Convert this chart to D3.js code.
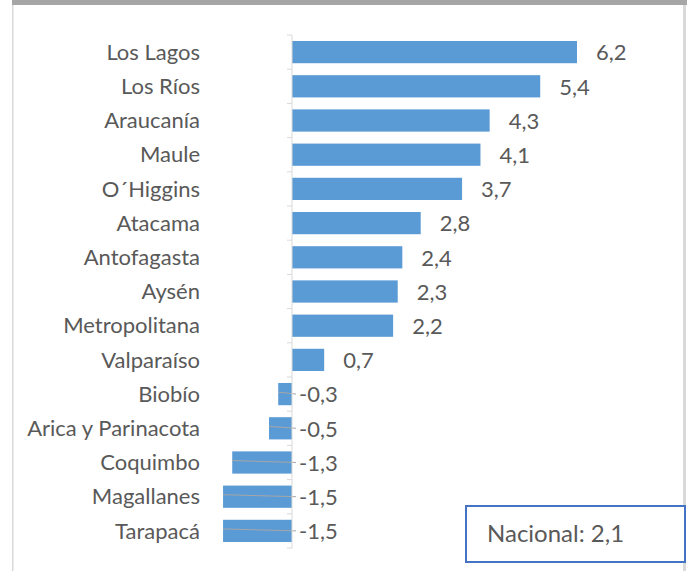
<!DOCTYPE html>
<html>
<head>
<meta charset="utf-8">
<script src="https://cdn.jsdelivr.net/npm/d3@7"></script>
<style>
  body { margin: 0; background: #fff; }
  text { font-family: Lato, "Open Sans", sans-serif; fill: #595959; }
</style>
</head>
<body>
<div id="chart"></div>
<script>
var regions = ["Los Lagos", "Los Ríos", "Araucanía", "Maule", "O´Higgins", "Atacama", "Antofagasta", "Aysén", "Metropolitana", "Valparaíso", "Biobío", "Arica y Parinacota", "Coquimbo", "Magallanes", "Tarapacá"];
var values = [6.2, 5.4, 4.3, 4.1, 3.7, 2.8, 2.4, 2.3, 2.2, 0.7, -0.3, -0.5, -1.3, -1.5, -1.5];
var nacional = 2.1;

var W = 687, H = 571;

var rows = regions.map(function(r, i) { return {region: r, value: values[i]}; });

var svg = d3.select("#chart")
  .append("svg")
  .attr("width", W)
  .attr("height", H);

// frame
svg.append("rect").attr("x", 12).attr("y", 0).attr("width", W - 12).attr("height", 5).attr("fill", "#a6a6a6");
svg.append("rect").attr("x", 12).attr("y", 5).attr("width", 1.5).attr("height", H).attr("fill", "#d9d9d9");
svg.append("rect").attr("x", 683).attr("y", 5).attr("width", 3).attr("height", H).attr("fill", "#d9d9d9");

var fmt = function(v) { return d3.format(".1f")(v).replace(".", ",").replace("−", "-"); };

//SCALES//
var x = d3.scaleLinear().domain([0, 6.2]).range([292, 577]);
var y = d3.scaleBand().domain(regions).range([35, 548]).paddingInner(0.35).paddingOuter(0.175);

// bars
svg.selectAll(".bar")
  .data(rows)
  .enter().append("rect")
  .attr("class", "bar")
  .attr("x", function(d) { return Math.min(x(d.value), x(0)); })
  .attr("y", function(d) { return y(d.region); })
  .attr("width", function(d) { return Math.abs(x(d.value) - x(0)); })
  .attr("height", y.bandwidth())
  .attr("fill", "#5b9bd5");

// faint leader lines across the negative bars
svg.selectAll(".leader")
  .data(rows.filter(function(d) { return d.value < 0; }))
  .enter().append("line")
  .attr("class", "leader")
  .attr("x1", function(d) { return x(d.value); })
  .attr("x2", x(0) + 4)
  .attr("y1", function(d) { return y(d.region) + y.bandwidth() / 2 - 2; })
  .attr("y2", function(d) { return y(d.region) + y.bandwidth() / 2; })
  .attr("stroke", "#a6a6a6")
  .attr("stroke-width", 1);

// axis with ticks between categories
var axisG = svg.append("g");
axisG.append("line")
  .attr("x1", x(0)).attr("x2", x(0))
  .attr("y1", 35).attr("y2", 548)
  .attr("stroke", "#d9d9d9");
var step = y.step();
d3.range(regions.length + 1).forEach(function(i) {
  var yy = 35 + i * step;
  axisG.append("line")
    .attr("x1", x(0) - 5).attr("x2", x(0))
    .attr("y1", yy).attr("y2", yy)
    .attr("stroke", "#d9d9d9");
});

// category labels
svg.selectAll(".cat")
  .data(regions)
  .enter().append("text")
  .attr("class", "cat")
  .attr("x", 200)
  .attr("y", function(d) { return y(d) + y.bandwidth() / 2; })
  .attr("dy", "0.35em")
  .attr("text-anchor", "end")
  .style("font-size", "22px")
  .text(function(d) { return d; });

// value labels
svg.selectAll(".val")
  .data(rows)
  .enter().append("text")
  .attr("class", "val")
  .attr("x", function(d) { return d.value >= 0 ? x(d.value) + 19 : x(0) + 7; })
  .attr("y", function(d) { return y(d.region) + y.bandwidth() / 2; })
  .attr("dy", "0.38em")
  .style("font-size", "22px")
  .text(function(d) { return fmt(d.value); });

// national box
svg.append("rect")
  .attr("x", 466).attr("y", 506)
  .attr("width", 219).attr("height", 56)
  .attr("fill", "#fff")
  .attr("stroke", "#4472c4")
  .attr("stroke-width", 2);
svg.append("text")
  .attr("x", 487).attr("y", 534)
  .attr("dy", "0.35em")
  .style("font-size", "24px")
  .text("Nacional: " + fmt(nacional));
</script>
</body>
</html>
